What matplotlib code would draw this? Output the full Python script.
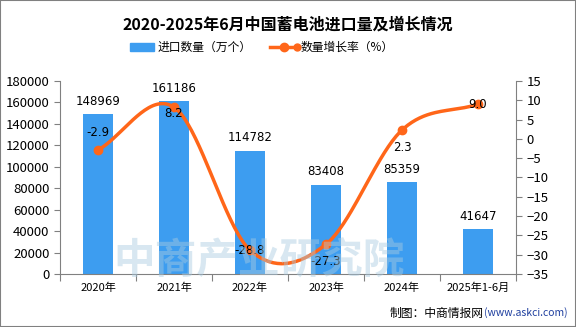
import numpy as np
import matplotlib.pyplot as plt

plt.rcParams['font.family'] = ['Noto Sans CJK SC', 'DejaVu Sans']

# data
years = ['2020年', '2021年', '2022年', '2023年', '2024年', '2025年1-6月']
qty = [148969, 161186, 114782, 83408, 85359, 41647]
growth = [-2.9, 8.2, -28.8, -27.3, 2.3, 9.0]

bar_c = '#3d9df0'
line_c = '#ff6619'
grey = '#808080'

fig = plt.figure(figsize=(5.76, 3.27), dpi=100)
ax = fig.add_axes([60/576, 1-274/327, 456/576, 193/327])
ax2 = ax.twinx()

x = np.arange(len(years))
ax.bar(x, qty, width=0.4, color=bar_c, zorder=2)
for xi, v in zip(x, qty):
    ax.text(xi, v + 6000, str(v), ha='center', va='bottom', fontsize=8.5, family='DejaVu Sans')

ax.set_xlim(-0.5, len(years) - 0.5)
ax.set_ylim(0, 180000)
ax.set_yticks(range(0, 180001, 20000))
ax.set_xticks(np.arange(-0.5, len(years), 1))
ax.set_xticklabels([])
ax.set_xticks(x, minor=True)
ax.set_xticklabels(years, minor=True, fontsize=8)
ax.tick_params(axis='x', which='minor', length=0, pad=6)
ax.tick_params(axis='x', which='major', length=5, color=grey)
ax.tick_params(axis='y', labelsize=9.5, length=4, color=grey)

# smooth line (catmull-rom through the points)
def spline(px, py, n=40):
    px = np.asarray(px, float); py = np.asarray(py, float)
    P = np.column_stack([px, py])
    P = np.vstack([2*P[0]-P[1], P, 2*P[-1]-P[-2]])
    out = []
    for i in range(1, len(P)-2):
        p0, p1, p2, p3 = P[i-1], P[i], P[i+1], P[i+2]
        t = np.linspace(0, 1, n)[:, None]
        seg = 0.5*((2*p1) + (-p0+p2)*t + (2*p0-5*p1+4*p2-p3)*t**2 + (-p0+3*p1-3*p2+p3)*t**3)
        out.append(seg)
    out = np.vstack(out)
    return out[:, 0], out[:, 1]

sx, sy = spline(x, growth)
ax2.plot(sx, sy, color=line_c, lw=2.5, zorder=3)
ax2.plot(x, growth, 'o', color=line_c, ms=6, zorder=4)
offs = [4.5, -1.5, 0, -4.5, -4.5, 0]
for xi, v, o in zip(x, growth, offs):
    ax2.text(xi, v + o, f'{v:.1f}', ha='center', va='center', fontsize=8.5, family='DejaVu Sans', zorder=5)
ax2.set_ylim(-35, 15)
ax2.set_yticks(range(-35, 16, 5))
ax2.tick_params(axis='y', labelsize=9.5, length=4, color=grey)

for a in (ax, ax2):
    for s in ('top',):
        a.spines[s].set_visible(False)
    a.spines['left'].set_color(grey)
    a.spines['right'].set_color(grey)
    a.spines['bottom'].set_color(grey)
ax.spines['right'].set_visible(False)
ax2.spines['left'].set_visible(False)
ax2.spines['bottom'].set_visible(False)

# watermark
fig.text(0.45, 0.2, '中商产业研究院', fontsize=30, color='#a9cbe0', alpha=0.45,
         ha='center', va='center', fontweight='bold', zorder=0)

fig.text(0.5, 0.925, '2020-2025年6月中国蓄电池进口量及增长情况', ha='center', va='center',
         fontsize=11.5, fontweight='bold')

# legend
fig.patches.append(plt.Rectangle((130/576, 1-51/327), 24/576, 8/327, transform=fig.transFigure,
                                 color=bar_c))
fig.text(158/576, 1-47/327, '进口数量（万个）', va='center', fontsize=8.5)
fig.add_artist(plt.Line2D([270/576, 297/576], [1-47/327, 1-47/327], color=line_c, lw=2.5,
                          marker='o', markevery=[1], ms=5, transform=fig.transFigure))
fig.add_artist(plt.Line2D([283.5/576], [1-47/327], color=line_c, marker='o', ms=6,
                          transform=fig.transFigure))
fig.text(301/576, 1-47/327, '数量增长率（%）', va='center', fontsize=8.5)

fig.text(0.84, 1-313/327, '制图：中商情报网', ha='right', va='center', fontsize=8.5)
fig.text(0.84, 1-313/327, '(www.askci.com)', ha='left', va='center', fontsize=7.5, color='#1f3f9f')

fig.patches.append(plt.Rectangle((0, 0), 1, 1, transform=fig.transFigure, fill=False,
                                 edgecolor=grey, lw=1.5))

fig.savefig('out.png', dpi=100)
